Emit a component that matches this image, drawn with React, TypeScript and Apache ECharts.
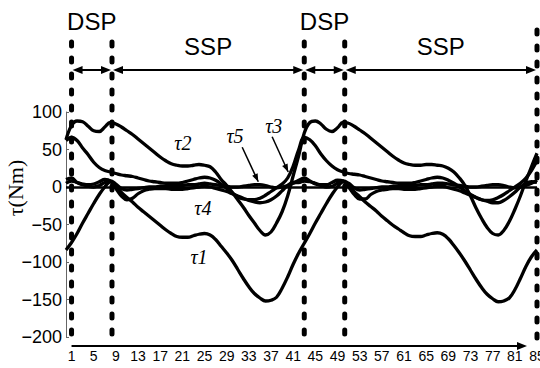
import { useEffect, useRef } from "react";
import * as echarts from "echarts";

// sample index 0..85
const sampleIdx: number[] = Array.from({ length: 86 }, (_, i) => i);
const xTickLabels = [1, 5, 9, 13, 17, 21, 25, 29, 33, 37, 41, 45, 49, 53, 57, 61, 65, 69, 73, 77, 81, 85];

const tau1 = [
  -84, -74, -62, -48, -35, -22, -10, 0, 7, 2, -7, -14, -20, -27, -33, -39, -45, -51, -57, -62, -66,
  -67, -67, -65, -63, -62, -64, -70, -79, -88, -98, -110, -122, -133, -142, -148, -152, -151, -147, -135, -120,
  -103, -88,
  -75, -62, -48, -35, -22, -10, 0, 7, 3, -6, -13, -20, -26, -32, -39, -45, -51, -56, -61, -65, -66, -66,
  -64, -62, -61, -63, -69, -78, -88, -99, -111, -123, -134, -143, -149, -153, -152, -148, -137, -122, -106, -93, -84,
];
const tau2 = [
  63, 82, 88, 87, 81, 75, 74, 80, 86, 84, 80, 75, 70, 64, 58, 52, 46, 40, 35, 31, 29, 28, 28, 29, 30, 29,
  27, 20, 10, 2, -7, -17, -27, -38, -48, -58, -64, -60, -48, -33, -12, 15, 42,
  72, 86, 88, 84, 77, 74, 79, 86, 85, 81, 76, 71, 65, 59, 53, 47, 41, 36, 32, 30, 29, 29, 30, 30, 29,
  28, 25, 20, 12, 2, -12, -28, -42, -54, -62, -64, -58, -46, -30, -12, 8, 27, 45,
];
const tau3 = [
  62, 66, 62, 52, 43, 33, 26, 22, 20, 18, 16, 15, 14, 12, 10, 8, 7, 6, 5, 5, 5, 6, 8, 10, 12, 13, 12, 9,
  4, -2, -8, -13, -16, -17, -17, -15, -11, -6, -1, 4, 12, 28, 50,
  66, 63, 55, 44, 35, 28, 23, 20, 18, 17, 16, 14, 12, 10, 8, 7, 6, 5, 5, 5, 6, 8, 10, 12, 13, 12, 9, 5,
  0, -5, -10, -14, -17, -18, -17, -14, -10, -5, 0, 5, 12, 22, 35,
];
const tau4 = [
  5, 8, 6, 4, 3, 4, 7, 10, 8, -2, -12, -17, -15, -9, -5, -3, -2, -2, -2, -3, -3, -3, -2, -1, 0, 1, 0, -2,
  -4, -6, -9, -12, -15, -18, -20, -21, -20, -17, -12, -5, 2, 6, 6,
  8, 7, 5, 3, 3, 6, 9, 8, 0, -10, -16, -16, -10, -6, -4, -3, -2, -2, -3, -3, -3, -2, -1, 0, 1, 1, -1, -3,
  -5, -8, -11, -14, -17, -19, -21, -21, -18, -13, -7, 0, 5, 7, 6,
];
const tau5 = [
  10, 12, 6, 3, 1, 0, 2, 6, 8, 4, -2, -4, -3, -2, -1, 0, 0, 1, 1, 2, 2, 2, 3, 3, 4, 5, 4, 3, 2, 1, 0, 0,
  1, 2, 3, 3, 2, 0, -1, 0, 2, 5, 9,
  12, 8, 4, 2, 0, 1, 5, 8, 5, -1, -4, -3, -2, -1, 0, 0, 1, 1, 2, 2, 2, 3, 3, 4, 5, 5, 4, 3, 2, 1, 0, 0,
  1, 2, 3, 3, 2, 0, -1, 0, 2, 5, 9,
];
const seriesNames = ["τ1", "τ2", "τ3", "τ4", "τ5"];
const seriesValues = [tau1, tau2, tau3, tau4, tau5];

// gait phase boundaries (sample index) and names
const phaseBounds = [1, 8.3, 43, 50.3, 85];
const phaseNames = ["DSP", "SSP", "DSP", "SSP"];

// curve label anchors in data coordinates
const curveLabelNames = ["τ1", "τ2", "τ3", "τ4", "τ5"];
const curveLabelX = [24, 21.1, 37.5, 24.7, 30.5];
const curveLabelY = [-93, 59, 81, -28, 68];
// pointer arrows (from label toward curve): [x0, y0, x1, y1]
const pointerArrows = [
  [31.8, 53, 34.7, 7],
  [37.2, 67, 40.1, 20],
];

export default function App() {
  const ref = useRef<HTMLDivElement>(null);
  useEffect(() => {
    if (!ref.current) return;
    const chart = echarts.init(ref.current, null, { renderer: "svg" });
    const sans = "Liberation Sans";
    const serif = "Liberation Serif";
    chart.setOption({
      animation: false,
      backgroundColor: "#fff",
      grid: { left: 66, right: 3, top: 112, bottom: 31, containLabel: false, outerBoundsMode: "none" },
      xAxis: {
        type: "value",
        min: 0,
        max: 85,
        offset: 9,
        axisLine: { show: false },
        axisTick: { show: false },
        splitLine: { show: false },
        axisLabel: {
          customValues: xTickLabels,
          fontSize: 14,
          fontFamily: sans,
          color: "#000",
          margin: 3,
          alignMaxLabel: "center",
        },
      },
      yAxis: {
        type: "value",
        min: -200,
        max: 100,
        interval: 50,
        axisLine: { show: true, lineStyle: { color: "#666", width: 1 } },
        axisTick: { show: true, inside: true, length: 3, lineStyle: { color: "#666" } },
        splitLine: { show: false },
        axisLabel: {
          fontSize: 18,
          fontFamily: sans,
          color: "#000",
          margin: 4,
          formatter: (v: number) => String(v).replace("-", "\u2212"),
        },
      },
      series: seriesValues.map((vals, k) => ({
        name: seriesNames[k],
        type: "line",
        smooth: 0.4,
        showSymbol: false,
        silent: true,
        lineStyle: { color: "#000", width: 3.3 },
        data: vals.map((v, i) => [sampleIdx[i], v]),
        markLine:
          k === 4
            ? {
                silent: true,
                symbol: "none",
                label: { show: false },
                lineStyle: { color: "#000", width: 2.5, type: "solid" },
                data: [{ yAxis: 0 }],
              }
            : undefined,
      })),
    });

    const P = (x: number, y: number) => chart.convertToPixel({ gridIndex: 0 }, [x, y]) as number[];
    const head = (tx: number, ty: number, fx: number, fy: number, len = 10, half = 4) => {
      const a = Math.atan2(ty - fy, tx - fx);
      const bx = tx - len * Math.cos(a);
      const by = ty - len * Math.sin(a);
      const nx = -Math.sin(a) * half;
      const ny = Math.cos(a) * half;
      return {
        type: "polygon",
        shape: { points: [[tx, ty], [bx + nx, by + ny], [bx - nx, by - ny]] },
        style: { fill: "#000" },
      };
    };
    const g: any[] = [];
    // y axis name
    g.push({
      type: "text",
      x: 15,
      y: 188,
      rotation: Math.PI / 2,
      style: { text: "τ(Nm)", fontSize: 22, fontFamily: serif, fill: "#000", align: "center", verticalAlign: "middle" },
    });
    // x axis line with arrow
    const xa0 = P(1, -200)[0];
    const xa1 = P(83.2, -200)[0];
    const xaY = 346;
    g.push({ type: "line", shape: { x1: xa0, y1: xaY, x2: xa1 - 6, y2: xaY }, style: { stroke: "#000", lineWidth: 2 } });
    g.push(head(xa1, xaY, xa0, xaY, 10, 4));
    // phase boundaries
    const bx = phaseBounds.map((b) => P(b, 0)[0]);
    bx.forEach((x, k) => {
      const last = k === bx.length - 1;
      g.push({
        type: "line",
        shape: { x1: x, y1: last ? 30 : 42, x2: x, y2: last ? 350 : 336 },
        style: { stroke: "#000", lineWidth: 5, lineDash: [4, 12], lineCap: "round" },
      });
    });
    const arrowY = 70;
    for (let k = 0; k < phaseNames.length; k++) {
      const x1 = bx[k];
      const x2 = bx[k + 1];
      g.push({ type: "line", shape: { x1: x1 + 6, y1: arrowY, x2: x2 - 6, y2: arrowY }, style: { stroke: "#000", lineWidth: 2 } });
      g.push(head(x1 + 1, arrowY, x2, arrowY, 10, 4));
      g.push(head(x2 - 1, arrowY, x1, arrowY, 10, 4));
      const isD = phaseNames[k] === "DSP";
      g.push({
        type: "text",
        x: (x1 + x2) / 2,
        y: isD ? 21 : 46,
        style: { text: phaseNames[k], fontSize: 24, fontFamily: sans, fill: "#000", align: "center", verticalAlign: "middle" },
      });
    }
    // curve labels
    curveLabelNames.forEach((t, k) => {
      const p = P(curveLabelX[k], curveLabelY[k]);
      g.push({
        type: "text",
        x: p[0],
        y: p[1],
        style: { text: t, fontSize: 20, fontFamily: serif, fontStyle: "italic", fill: "#000", align: "center", verticalAlign: "middle" },
      });
    });
    pointerArrows.forEach((a) => {
      const p0 = P(a[0], a[1]);
      const p1 = P(a[2], a[3]);
      g.push({ type: "line", shape: { x1: p0[0], y1: p0[1], x2: p1[0], y2: p1[1] }, style: { stroke: "#000", lineWidth: 1.5 } });
      g.push(head(p1[0], p1[1], p0[0], p0[1], 8, 3));
    });
    chart.setOption({ graphic: g });
    return () => chart.dispose();
  }, []);
  return <div ref={ref} style={{ position: "absolute", left: 0, top: 0, width: 540, height: 368 }} />;
}
